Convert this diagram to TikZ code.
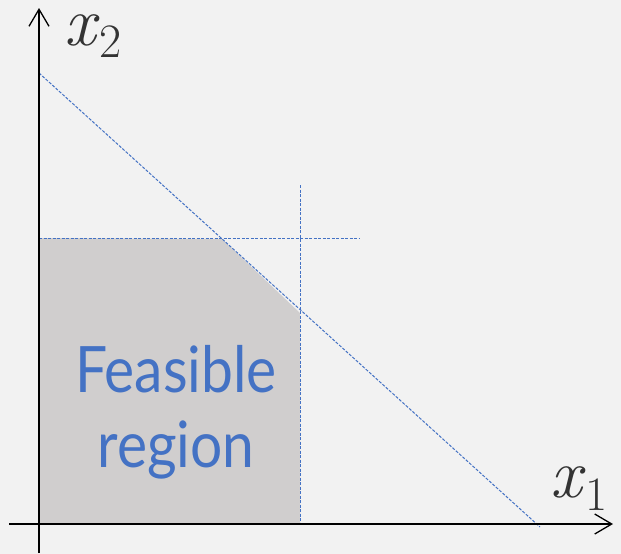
\documentclass[tikz,border=0pt]{standalone}
\usepackage{fontspec}
\setmainfont{Lato}
\newfontfamily\lmfont{Latin Modern Roman}
\usetikzlibrary{arrows.meta}
\definecolor{bgc}{HTML}{F2F2F2}
\definecolor{feasc}{HTML}{D0CECE}
\definecolor{bluec}{HTML}{4472C4}
\definecolor{labc}{HTML}{333333}
\newcommand{\axlab}[1]{{\fontsize{70}{70}\selectfont\itshape x}\kern4pt\raisebox{-13pt}{\fontsize{48}{48}\selectfont #1}}
\newcommand{\narrow}[1]{\scalebox{0.89}[1]{#1}}
\tikzset{
  axis/.style={line width=1.3pt, black, -{Straight Barb[length=17pt,width=20pt,line width=1.3pt]}},
  guide/.style={bluec, line width=1pt, dash pattern=on 3pt off 1.5pt},
  feas/.style={fill=feasc, draw=none},
  bigtext/.style={bluec, font=\fontsize{64}{64}\selectfont, inner sep=0pt, anchor=base},
  axlabel/.style={labc, font=\lmfont, inner sep=0pt, anchor=base west}
}
\begin{document}
\begin{tikzpicture}[x=1pt,y=-1pt]
\useasboundingbox (0,0) rectangle (621,554);
\fill[bgc] (0,0) rectangle (621,554);
% feasible region
\fill[feas] (39,238) -- (222,239) -- (300,313) -- (300,524) -- (39,524) -- cycle;
% guide lines
\coordinate (d1) at (39,73);
\coordinate (d2) at (540,527);
\coordinate (h1) at (39,238);
\coordinate (h2) at (360,238);
\coordinate (v1) at (300.5,185);
\coordinate (v2) at (300.5,524);
\draw[guide] (d1) -- (d2);
\draw[guide] (h1) -- (h2);
\draw[guide] (v1) -- (v2);
% axes
\coordinate (xs) at (9,524);
\coordinate (xe) at (613,524);
\coordinate (ys) at (39,553);
\coordinate (ye) at (39,8);
\draw[axis] (xs) -- (xe);
\draw[axis] (ys) -- (ye);
% labels
\node[axlabel] (lx2) at (64,45) {\axlab{2}};
\node[axlabel] (lx1) at (550,497) {\axlab{1}};
\node[bigtext] (t1) at (176,392) {\narrow{Feasible}};
\node[bigtext] (t2) at (176,467) {\narrow{region}};
\end{tikzpicture}
\end{document}
